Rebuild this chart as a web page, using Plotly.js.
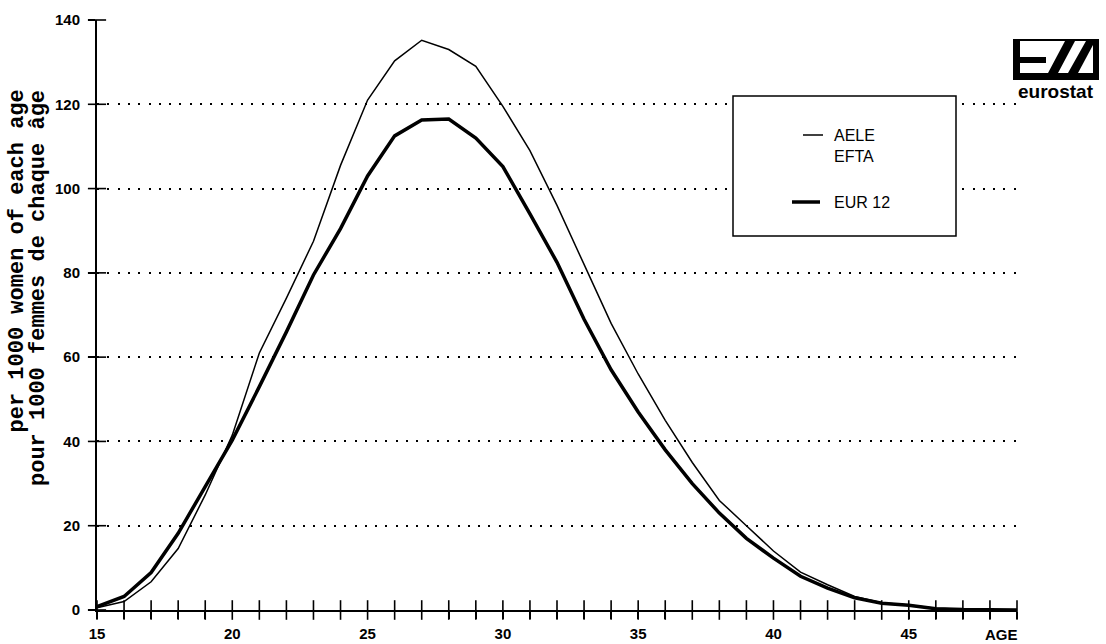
<!DOCTYPE html>
<html>
<head>
<meta charset="utf-8">
<script src="https://cdn.plot.ly/plotly-3.0.1.min.js"></script>
<style>html,body{margin:0;padding:0;background:#fff;}#chart{width:1106px;height:644px;}</style>
</head>
<body>
<div id="chart"></div>
<script>
// ---- data ----
const ages = [15,16,17,18,19,20,21,22,23,24,25,26,27,28,29,30,31,32,33,34,35,36,37,38,39,40,41,42,43,44,45,46,47,48,49];
const aeleEfta = [0.5,2.0,6.7,14.6,27.3,41.5,61,74,87.5,105.5,121,130.3,135.2,133,129,119.5,109,96,82,68,56,45,35,26,20,14,9,6,3.2,1.7,1.2,0.4,0.2,0.1,0];
const eur12 = [0.8,3.2,8.9,18.2,29.3,40.3,53,66,79.5,90.5,103,112.5,116.3,116.5,112,105.2,94,82.5,69,57,47,38,30,23,17,12.3,8,5.2,2.9,1.6,1.1,0.3,0.1,0.1,0];
const yTicks = [0,20,40,60,80,100,120,140];
const xLabelAges = [15,20,25,30,35,40,45];
const seriesNames = ["AELE<br>EFTA", "EUR 12"];
const legendLines = ["AELE", "EFTA", "EUR 12"];
const yTitleLines = ["per 1000 women of each age", "pour 1000 femmes de chaque âge"];
const xEndLabel = "AGE";

// ---- pixel helpers for decorations (plot area 97..1017 x 20..610) ----
const L = 97, R = 1017, T = 20, B = 610;
const px = x => (x - L) / (R - L);
const py = y => (B - y) / (B - T);

const traces = [
  {x: ages, y: aeleEfta, name: seriesNames[0], type: 'scatter', mode: 'lines',
   line: {color: 'black', width: 1.5}, hoverinfo: 'x+y'},
  {x: ages, y: eur12, name: seriesNames[1], type: 'scatter', mode: 'lines',
   line: {color: 'black', width: 3.5}, hoverinfo: 'x+y'},
  // tick marks crossing the x axis (one per age)
  {x: ages, y: ages.map(() => 0), type: 'scatter', mode: 'markers', cliponaxis: false,
   marker: {symbol: 'line-ns', size: 14, color: 'black', line: {color: 'black', width: 1.6}},
   hoverinfo: 'skip', showlegend: false},
  // tick marks crossing the y axis
  {x: yTicks.map(() => ages[0]), y: yTicks, type: 'scatter', mode: 'markers', cliponaxis: false,
   marker: {symbol: 'line-ew', size: 13, color: 'black', line: {color: 'black', width: 1.6}},
   hoverinfo: 'skip', showlegend: false}
];

const tickFont = {family: 'Liberation Sans, Arial, sans-serif', size: 15, color: 'black', weight: 'bold'};

const shapes = [
  // legend box
  {type: 'rect', xref: 'paper', yref: 'paper', x0: px(733), x1: px(956), y0: py(96), y1: py(236),
   fillcolor: 'white', line: {color: 'black', width: 1.5}, layer: 'above'},
  {type: 'line', xref: 'paper', yref: 'paper', x0: px(803), x1: px(823), y0: py(135), y1: py(135),
   line: {color: 'black', width: 1.5}},
  {type: 'line', xref: 'paper', yref: 'paper', x0: px(792), x1: px(820), y0: py(202), y1: py(202),
   line: {color: 'black', width: 3.5}},
  // eurostat logo
  {type: 'rect', xref: 'paper', yref: 'paper', x0: px(1013), x1: px(1099), y0: py(39), y1: py(41),
   fillcolor: 'black', line: {width: 0}},
  {type: 'rect', xref: 'paper', yref: 'paper', x0: px(1013), x1: px(1020), y0: py(39), y1: py(80),
   fillcolor: 'black', line: {width: 0}},
  {type: 'rect', xref: 'paper', yref: 'paper', x0: px(1020), x1: px(1046), y0: py(57), y1: py(63),
   fillcolor: 'black', line: {width: 0}},
  {type: 'rect', xref: 'paper', yref: 'paper', x0: px(1013), x1: px(1099), y0: py(73), y1: py(80),
   fillcolor: 'black', line: {width: 0}},
  {type: 'rect', xref: 'paper', yref: 'paper', x0: px(1093), x1: px(1099), y0: py(39), y1: py(80),
   fillcolor: 'black', line: {width: 0}},
  {type: 'path', xref: 'paper', yref: 'paper',
   path: `M ${px(1048)} ${py(73)} L ${px(1058)} ${py(73)} L ${px(1075)} ${py(41)} L ${px(1065)} ${py(41)} Z`,
   fillcolor: 'black', line: {width: 0}},
  {type: 'path', xref: 'paper', yref: 'paper',
   path: `M ${px(1068)} ${py(73)} L ${px(1078)} ${py(73)} L ${px(1093)} ${py(45)} L ${px(1093)} ${py(41)} L ${px(1086)} ${py(41)} Z`,
   fillcolor: 'black', line: {width: 0}}
];

const legendFont = {family: 'Liberation Sans, Arial, sans-serif', size: 16, color: 'black'};
const titleFont = {family: 'Liberation Mono, Courier New, monospace', size: 22, color: 'black', weight: 'bold'};

const annotations = [
  {xref: 'paper', yref: 'paper', x: px(17), y: py(88), text: yTitleLines[0], textangle: -90,
   showarrow: false, xanchor: 'center', yanchor: 'top', font: titleFont},
  {xref: 'paper', yref: 'paper', x: px(38), y: py(88), text: yTitleLines[1], textangle: -90,
   showarrow: false, xanchor: 'center', yanchor: 'top', font: titleFont},
  {xref: 'paper', yref: 'paper', x: px(832), y: py(135), text: legendLines[0], showarrow: false,
   xanchor: 'left', yanchor: 'middle', font: legendFont},
  {xref: 'paper', yref: 'paper', x: px(832), y: py(156), text: legendLines[1], showarrow: false,
   xanchor: 'left', yanchor: 'middle', font: legendFont},
  {xref: 'paper', yref: 'paper', x: px(832), y: py(202), text: legendLines[2], showarrow: false,
   xanchor: 'left', yanchor: 'middle', font: legendFont},
  {xref: 'x', yref: 'paper', x: 49, y: py(634), text: xEndLabel, showarrow: false,
   xanchor: 'right', yanchor: 'middle', xshift: 3, font: tickFont},
  {xref: 'paper', yref: 'paper', x: px(1056), y: py(91), text: '<b>eurostat</b>', showarrow: false,
   xanchor: 'center', yanchor: 'middle',
   font: {family: 'Liberation Sans, Arial, sans-serif', size: 19, color: 'black'}}
];

const layout = {
  width: 1106, height: 644,
  margin: {l: L, r: 1106 - R, t: T, b: 644 - B, pad: 0},
  paper_bgcolor: 'white', plot_bgcolor: 'white',
  showlegend: false,
  xaxis: {
    range: [15, 49], tickvals: ages,
    ticktext: ages.map(a => xLabelAges.includes(a) ? String(a) : ''),
    ticks: 'outside', ticklen: 7, tickwidth: 1.5, tickcolor: 'black',
    showline: true, linecolor: 'black', linewidth: 2, ticklabelstandoff: 2,
    showgrid: false, zeroline: false, tickfont: tickFont, fixedrange: true
  },
  yaxis: {
    range: [0, 140], tickvals: yTicks, ticks: 'outside', ticklen: 7, tickwidth: 1.5,
    tickcolor: 'black', showline: true, linecolor: 'black', linewidth: 2,
    showgrid: true, gridcolor: 'black', gridwidth: 2, griddash: '2px,8.3px',
    zeroline: false, tickfont: tickFont, ticklabelstandoff: 5, fixedrange: true
  },
  shapes: shapes,
  annotations: annotations
};

Plotly.newPlot('chart', traces, layout, {displayModeBar: false, staticPlot: true});
</script>
</body>
</html>
